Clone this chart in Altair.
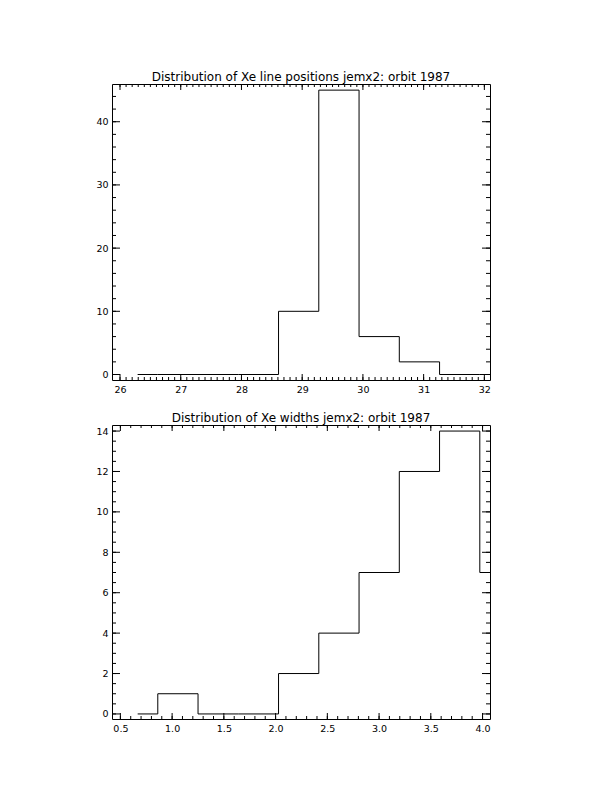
import altair as alt
import pandas as pd

# Histogram of Xe line positions (bin centres and counts)
pos_centers = [26.290, 26.953, 27.616, 28.279, 28.942, 29.605, 30.268, 30.931, 31.594, 32.257]
pos_counts = [0, 0, 0, 0, 10, 45, 6, 2, 0, 0]

# Histogram of Xe line widths (bin centres and counts)
wid_centers = [0.667, 1.056, 1.445, 1.834, 2.223, 2.612, 3.001, 3.390, 3.779, 4.168]
wid_counts = [0, 1, 0, 0, 2, 4, 7, 12, 14, 7]

pos_title = "Distribution of Xe line positions jemx2: orbit 1987"
wid_title = "Distribution of Xe widths jemx2: orbit 1987"

# Axis ranges and tick values
pos_xdomain = [25.868, 32.093]
pos_ydomain = [-0.87, 45.97]
pos_xmajor = [26, 27, 28, 29, 30, 31, 32]
pos_ymajor = [0, 10, 20, 30, 40]

wid_xdomain = [0.419, 4.072]
wid_ydomain = [-0.25, 14.3]
wid_xmajor = [0.5, 1.0, 1.5, 2.0, 2.5, 3.0, 3.5, 4.0]
wid_ymajor = [0, 2, 4, 6, 8, 10, 12, 14]

FONT = "DejaVu Sans"
W = 378


def minor_ticks(start, stop, step):
    n = int(round((stop - start) / step))
    return [round(start + i * step, 4) for i in range(n + 1)]


def panel(centers, counts, xdom, ydom, xmaj, xmin, ymaj, ymin, xfmt, title, H):
    df = pd.DataFrame({"x": centers, "y": counts})
    xs = alt.Scale(domain=xdom, nice=False, zero=False)
    ys = alt.Scale(domain=ydom, nice=False, zero=False)
    axis_style = dict(
        title=None, ticks=False, domain=False, grid=False,
        labelFont=FONT, labelFontSize=9.5, labelColor="black", labelPadding=4,
    )
    xaxis = alt.Axis(values=xmaj, format=xfmt, **axis_style)
    yaxis = alt.Axis(values=ymaj, format="d", **axis_style)

    hist = alt.Chart(df).mark_line(
        interpolate="step", color="black", strokeWidth=1, clip=True
    ).encode(
        x=alt.X("x:Q", scale=xs, axis=xaxis),
        y=alt.Y("y:Q", scale=ys, axis=yaxis),
    )

    # inward tick marks on all four sides of the frame
    def xticks(vals, length):
        base = alt.Chart(pd.DataFrame({"x": vals})).mark_rule(color="black", strokeWidth=1)
        enc = dict(x=alt.X("x:Q", scale=xs, axis=xaxis))
        return [
            base.encode(**enc, y=alt.value(H), y2=alt.value(H - length)),
            base.encode(**enc, y=alt.value(0), y2=alt.value(length)),
        ]

    def yticks(vals, length):
        base = alt.Chart(pd.DataFrame({"y": vals})).mark_rule(color="black", strokeWidth=1)
        enc = dict(y=alt.Y("y:Q", scale=ys, axis=yaxis))
        return [
            base.encode(**enc, x=alt.value(0), x2=alt.value(length)),
            base.encode(**enc, x=alt.value(W), x2=alt.value(W - length)),
        ]

    layers = [hist] + xticks(xmaj, 6) + xticks(xmin, 3) + yticks(ymaj, 8) + yticks(ymin, 4)
    return alt.layer(*layers).properties(
        width=W, height=H,
        title=alt.TitleParams(
            title, font=FONT, fontSize=12, fontWeight="normal", color="black",
            anchor="middle", offset=-9, baseline="alphabetic",
        ),
    )


top = panel(
    pos_centers, pos_counts, pos_xdomain, pos_ydomain,
    pos_xmajor, minor_ticks(26, 32, 0.1),
    pos_ymajor, minor_ticks(0, 44, 2),
    "d", pos_title, 296,
)
bottom = panel(
    wid_centers, wid_counts, wid_xdomain, wid_ydomain,
    wid_xmajor, minor_ticks(0.5, 4.0, 0.1),
    wid_ymajor, minor_ticks(0, 14, 0.5),
    ".1f", wid_title, 294,
)

chart = alt.vconcat(top, bottom, spacing=45, bounds="flush").properties(
    padding={"left": 95, "top": 70, "right": 10, "bottom": 10},
    background="white",
).configure_view(stroke="black", strokeWidth=1)

chart.save("out.html", embed_options={"renderer": "svg", "actions": False})
